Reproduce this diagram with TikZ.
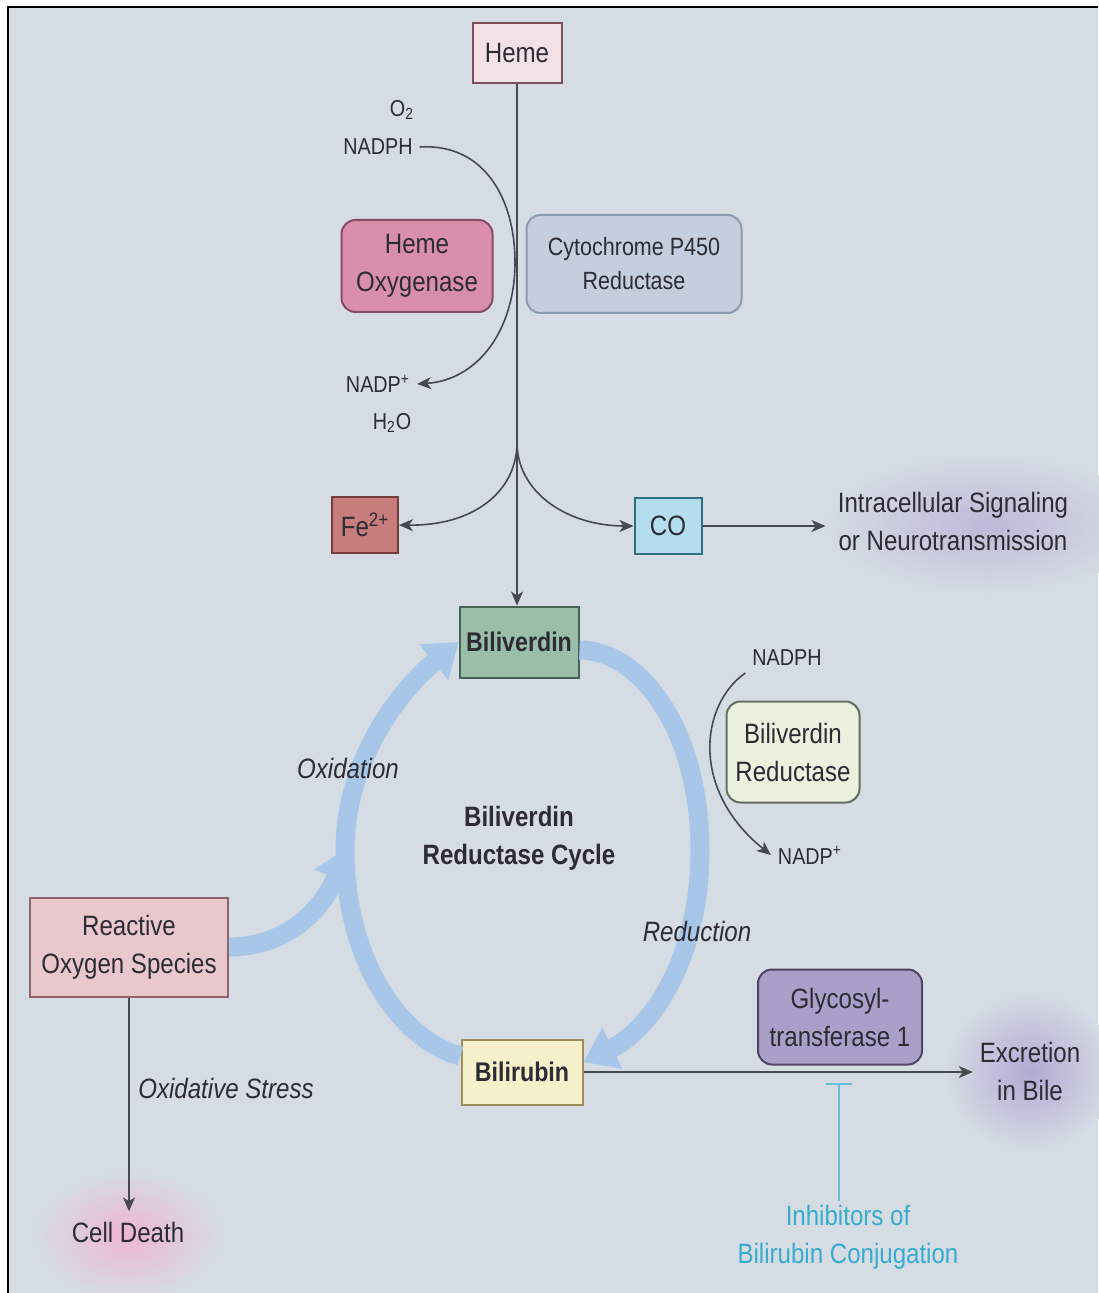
\documentclass[tikz,border=0pt]{standalone}
\usepackage{fontspec}
\setmainfont{Liberation Sans}[FakeStretch=0.86]
\usetikzlibrary{arrows.meta}

\definecolor{bg}{RGB}{213,220,228}
\definecolor{ink}{RGB}{45,43,52}
\definecolor{wire}{RGB}{70,72,82}
\definecolor{cyc}{RGB}{168,199,232}
\definecolor{inhcol}{RGB}{55,172,205}
\definecolor{glowpurple}{RGB}{178,170,212}
\definecolor{glowpink}{RGB}{238,182,212}

\begin{document}
\begin{tikzpicture}[x=0.5pt, y=-0.5pt, >={Stealth[length=7pt, width=6pt, inset=2pt]},
        every node/.style={text=ink, font=\fontsize{14}{19}\selectfont},
        box/.style={draw, line width=1pt, align=center, inner sep=0pt},
        enzyme/.style={box, rounded corners=7pt},
        tag/.style={font=\fontsize{11.5}{14}\selectfont},
        flow/.style={draw=wire, line width=0.8pt},
        band/.style={draw=cyc, line width=9.5pt, -{Triangle[length=16pt, width=22pt]}},
        inhib/.style={draw=inhcol!75, line width=0.8pt, -{Bar[width=13pt]}}]

        % frame and glows
        \useasboundingbox (0,0) rectangle (1098,1293);
        \fill[white] (0,0) rectangle (1098,1293);
        \fill[bg] (8,7) rectangle (1098,1293);
        \draw[black, line width=1pt] (8,1293) -- (8,7) -- (1098,7);
        \shade[inner color=glowpurple!70!bg, outer color=bg] (985,524) ellipse [x radius=160, y radius=70];
        \shade[inner color=glowpurple, outer color=bg] (1030,1072) ellipse [x radius=85, y radius=80];
        \shade[inner color=glowpink, outer color=bg] (128,1235) ellipse [x radius=95, y radius=65];

        % heme oxygenase step
        \node[box, fill={rgb,255:red,242;green,226;blue,229}, draw={rgb,255:red,125;green,80;blue,88}, minimum width=44.5pt, minimum height=30pt] (heme) at (517,53) {Heme};
        \node[tag] (o2) at (402,110) {O\textsubscript{2}};
        \node[tag] (nadph) at (378,147) {NADPH};
        \node[enzyme, fill={rgb,255:red,217;green,143;blue,172}, draw={rgb,255:red,135;green,75;blue,98}, minimum width=75.5pt, minimum height=46pt] (ho) at (417,266) {Heme\\Oxygenase};
        \node[enzyme, fill={rgb,255:red,196;green,206;blue,222}, draw={rgb,255:red,140;green,155;blue,175}, minimum width=107.5pt, minimum height=49pt, font=\fontsize{12.5}{17}\selectfont] (cyp) at (634,264) {Cytochrome P450\\Reductase};
        \node[tag] (nadpp) at (378,384) {NADP\textsuperscript{+}};
        \node[tag] (h2o) at (392,423) {H\textsubscript{2}O};

        % products
        \node[box, fill={rgb,255:red,200;green,125;blue,125}, draw={rgb,255:red,120;green,60;blue,60}, minimum width=33pt, minimum height=28pt] (fe) at (365,525) {Fe\textsuperscript{2+}};
        \node[box, fill={rgb,255:red,180;green,222;blue,238}, draw={rgb,255:red,50;green,110;blue,130}, minimum width=33.5pt, minimum height=28pt] (co) at (668,526) {CO};
        \node[align=center, inner sep=6pt] (sig) at (953,521) {Intracellular Signaling\\or Neurotransmission};

        % cycle
        \node[box, fill={rgb,255:red,155;green,190;blue,170}, draw={rgb,255:red,70;green,100;blue,85}, minimum width=59.5pt, minimum height=35.5pt, font=\fontsize{13.5}{19}\selectfont\bfseries] (bv) at (519,642) {Biliverdin};
        \node[tag] (nadph2) at (787,658) {NADPH};
        \node[enzyme, fill={rgb,255:red,236;green,240;blue,222}, draw={rgb,255:red,100;green,110;blue,95}, minimum width=66.5pt, minimum height=50.5pt] (bvr) at (793,752) {Biliverdin\\Reductase};
        \node[tag] (nadpp2) at (810,855) {NADP\textsuperscript{+}};
        \node[box, fill={rgb,255:red,232;green,200;blue,205}, draw={rgb,255:red,140;green,100;blue,105}, minimum width=99pt, minimum height=49.5pt] (ros) at (129,947) {Reactive\\Oxygen Species};
        \node[box, fill={rgb,255:red,246;green,241;blue,202}, draw={rgb,255:red,160;green,140;blue,90}, minimum width=60.5pt, minimum height=32.5pt, font=\fontsize{13.5}{19}\selectfont\bfseries] (br) at (522,1072) {Bilirubin};

        % cycle bands
        \coordinate (join) at (347,848);
        \draw[band] (ros.east) .. controls (290,947) and (325,905) .. (join);
        \draw[band] ([yshift=-4pt]bv.east) .. controls (640,650) and (700,730) .. (700,850) .. controls (700,960) and (650,1030) .. ([yshift=5pt]br.east);
        \draw[band] ([yshift=8pt]br.west) .. controls (400,1040) and (345,960) .. (345,850) .. controls (345,760) and (400,690) .. (bv.west);

        \node[font=\fontsize{14}{19}\selectfont\itshape] (ox) at (348,768) {Oxidation};
        \node[align=center, font=\fontsize{14}{19}\selectfont\bfseries] (cycle) at (519,838) {Biliverdin\\Reductase Cycle};
        \node[font=\fontsize{14}{19}\selectfont\itshape] (red) at (697,931) {Reduction};

        % fates
        \node[font=\fontsize{14}{19}\selectfont\itshape] (stress) at (226,1088) {Oxidative Stress};
        \node[inner sep=5pt] (cd) at (128,1232) {Cell Death};
        \node[enzyme, fill={rgb,255:red,168;green,160;blue,200}, draw={rgb,255:red,80;green,70;blue,100}, minimum width=82pt, minimum height=47.5pt] (gt) at (840,1017) {Glycosyl-\\transferase 1};
        \node[align=center] (bile) at (1030,1071) {Excretion\\in Bile};
        \node[align=center, text=inhcol, inner sep=2pt] (inh) at (848,1237) {Inhibitors of\\Bilirubin Conjugation};

        % thin connectors
        \coordinate (split) at (517,445);
        \draw[flow, ->] (heme.south) -- (heme.south |- bv.north);
        \draw[flow, ->] (nadph.east) .. controls (485,143) and (515,200) .. (515,262) .. controls (515,330) and (478,380) .. (nadpp.east);
        \draw[flow, ->] (split) .. controls (515,495) and (470,526) .. (fe.east);
        \draw[flow, ->] (split) .. controls (519,495) and (570,526) .. (co.west);
        \draw[flow, ->] (co.east) -- (co.east -| sig.west);
        \draw[flow, ->] (nadph2.south west) .. controls (700,705) and (690,790) .. (nadpp2.west);
        \draw[flow, ->] (ros.south) -- (ros.south |- cd.north);
        \draw[flow, ->] (br.east) -- (br.east -| bile.west);

        \coordinate (tbar) at (839,1083);
        \draw[inhib] (inh.north -| tbar) -- (tbar);

\end{tikzpicture}
\end{document}
